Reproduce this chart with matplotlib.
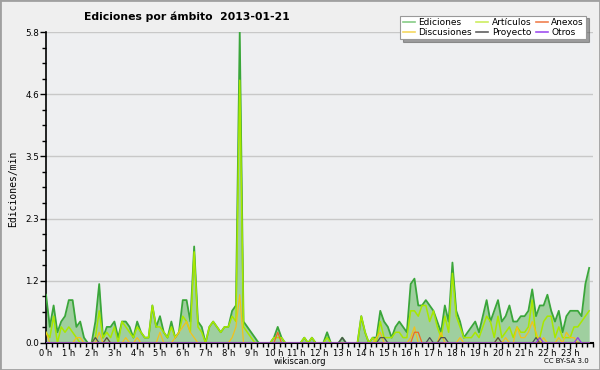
import numpy as np
import matplotlib
matplotlib.use("Agg")
import matplotlib.pyplot as plt
from matplotlib.lines import Line2D
from matplotlib.ticker import FixedLocator, MultipleLocator
from matplotlib.patches import Rectangle

# 10-minute bins, values in edits per minute
hours_step = 1 / 6
ediciones = [
    0.9, 0.3, 0.7, 0.2, 0.4, 0.5, 0.8, 0.8, 0.3, 0.4, 0.1, 0.0, 0.0, 0.4, 1.1, 0.1,
    0.3, 0.3, 0.4, 0.1, 0.4, 0.4, 0.3, 0.1, 0.4, 0.2, 0.1, 0.1, 0.7, 0.3, 0.5, 0.2,
    0.1, 0.4, 0.1, 0.2, 0.8, 0.8, 0.4, 1.8, 0.4, 0.3, 0.0, 0.3, 0.4, 0.3, 0.2, 0.3,
    0.3, 0.6, 0.7, 5.8, 0.4, 0.3, 0.2, 0.1, 0.0, 0.0, 0.0, 0.0, 0.1, 0.3, 0.1, 0.0,
    0.0, 0.0, 0.0, 0.0, 0.1, 0.0, 0.1, 0.0, 0.0, 0.0, 0.2, 0.0, 0.0, 0.0, 0.1, 0.0,
    0.0, 0.0, 0.0, 0.5, 0.2, 0.0, 0.1, 0.1, 0.6, 0.4, 0.3, 0.1, 0.3, 0.4, 0.3, 0.2,
    1.1, 1.2, 0.7, 0.7, 0.8, 0.7, 0.6, 0.4, 0.2, 0.7, 0.4, 1.5, 0.6, 0.4, 0.1, 0.2,
    0.3, 0.4, 0.2, 0.5, 0.8, 0.4, 0.6, 0.8, 0.4, 0.5, 0.7, 0.4, 0.4, 0.5, 0.5, 0.6,
    1.0, 0.5, 0.7, 0.7, 0.9, 0.6, 0.4, 0.6, 0.2, 0.5, 0.6, 0.6, 0.6, 0.5, 1.1, 1.4,
]
articulos = [
    0.2, 0.1, 0.5, 0.0, 0.3, 0.2, 0.3, 0.2, 0.1, 0.0, 0.0, 0.0, 0.0, 0.1, 0.6, 0.1,
    0.2, 0.1, 0.3, 0.0, 0.4, 0.3, 0.2, 0.1, 0.3, 0.2, 0.1, 0.1, 0.7, 0.3, 0.3, 0.2,
    0.1, 0.3, 0.1, 0.2, 0.5, 0.4, 0.2, 1.7, 0.3, 0.2, 0.0, 0.3, 0.4, 0.3, 0.2, 0.3,
    0.3, 0.5, 0.4, 4.9, 0.3, 0.2, 0.1, 0.0, 0.0, 0.0, 0.0, 0.0, 0.1, 0.1, 0.1, 0.0,
    0.0, 0.0, 0.0, 0.0, 0.1, 0.0, 0.1, 0.0, 0.0, 0.0, 0.1, 0.0, 0.0, 0.0, 0.0, 0.0,
    0.0, 0.0, 0.0, 0.5, 0.2, 0.0, 0.1, 0.0, 0.4, 0.1, 0.1, 0.1, 0.2, 0.2, 0.1, 0.1,
    0.6, 0.6, 0.5, 0.7, 0.7, 0.4, 0.6, 0.3, 0.1, 0.5, 0.2, 1.3, 0.5, 0.3, 0.1, 0.1,
    0.1, 0.2, 0.1, 0.3, 0.5, 0.4, 0.1, 0.5, 0.1, 0.2, 0.3, 0.1, 0.3, 0.2, 0.2, 0.3,
    0.8, 0.1, 0.1, 0.4, 0.5, 0.5, 0.1, 0.3, 0.1, 0.1, 0.1, 0.3, 0.3, 0.4, 0.5, 0.6,
]
discusiones = [
    0.2, 0.0, 0.0, 0.0, 0.0, 0.0, 0.0, 0.0, 0.1, 0.1, 0.0, 0.0, 0.0, 0.0, 0.2, 0.0,
    0.1, 0.0, 0.0, 0.0, 0.0, 0.1, 0.0, 0.0, 0.1, 0.0, 0.0, 0.0, 0.0, 0.0, 0.2, 0.0,
    0.0, 0.0, 0.1, 0.2, 0.3, 0.4, 0.2, 0.1, 0.0, 0.0, 0.0, 0.0, 0.0, 0.0, 0.0, 0.0,
    0.0, 0.1, 0.3, 0.9, 0.0, 0.0, 0.0, 0.0, 0.0, 0.0, 0.0, 0.0, 0.0, 0.0, 0.0, 0.0,
    0.0, 0.0, 0.0, 0.0, 0.0, 0.0, 0.0, 0.0, 0.0, 0.0, 0.0, 0.0, 0.0, 0.0, 0.0, 0.0,
    0.0, 0.0, 0.0, 0.0, 0.0, 0.0, 0.0, 0.1, 0.2, 0.0, 0.0, 0.0, 0.0, 0.0, 0.0, 0.0,
    0.1, 0.3, 0.0, 0.0, 0.0, 0.0, 0.0, 0.0, 0.2, 0.0, 0.0, 0.0, 0.0, 0.1, 0.0, 0.0,
    0.0, 0.0, 0.0, 0.0, 0.0, 0.0, 0.0, 0.1, 0.0, 0.1, 0.0, 0.0, 0.3, 0.1, 0.1, 0.2,
    0.4, 0.2, 0.0, 0.1, 0.0, 0.0, 0.0, 0.1, 0.0, 0.2, 0.1, 0.1, 0.0, 0.0, 0.0, 0.0,
]
anexos_bins = [61, 97, 98]
anexos_vals = [0.2, 0.2, 0.2]
proyecto_bins = [13, 16, 78, 88, 89, 101, 104, 105, 119, 129]
proyecto_vals = [0.1, 0.1, 0.1, 0.1, 0.1, 0.1, 0.1, 0.1, 0.1, 0.1]
otros_bins = [130, 140]
otros_vals = [0.1, 0.1]

y_major = [0.0, 1.16, 2.32, 3.48, 4.64, 5.8]
y_labels = ["0.0", "1.2", "2.3", "3.5", "4.6", "5.8"]
x_labels = [f"{h} h" for h in range(24)]

n = len(ediciones)
t = np.arange(n) * hours_step


def sparse(bins, vals):
    a = np.zeros(n)
    a[bins] = vals
    return a


anexos = sparse(anexos_bins, anexos_vals)
proyecto = sparse(proyecto_bins, proyecto_vals)
otros = sparse(otros_bins, otros_vals)

fig = plt.figure(figsize=(6, 3.7), dpi=100, facecolor="#efefef")
fig.patches.append(Rectangle((0, 0), 1, 1, transform=fig.transFigure,
                             fill=False, edgecolor="#a0a0a0", lw=2))
ax = fig.add_axes([0.0767, 0.073, 0.9116, 0.8405])
ax.set_facecolor("#eeeff1")

c_ed, c_art, c_dis = "#3aa63a", "#a8e800", "#f2c21a"
c_anx, c_pro, c_otr = "#ee6a22", "#505050", "#9138e8"

ax.fill_between(t, 0, ediciones, color="#9fcf9f", lw=0, zorder=2)
ax.plot(t, ediciones, color=c_ed, lw=1.3, zorder=3)
ax.plot(t, articulos, color=c_art, lw=1.1, zorder=4)
ax.plot(t, discusiones, color=c_dis, lw=0.9, zorder=5)
ax.plot(t, anexos, color=c_anx, lw=0.9, zorder=6)
ax.plot(t, proyecto, color=c_pro, lw=0.9, zorder=6)
ax.plot(t, otros, color=c_otr, lw=0.9, zorder=6)

ax.set_xlim(0, 24)
ax.set_ylim(0, 5.8)
ax.yaxis.set_major_locator(FixedLocator(y_major))
ax.set_yticklabels(y_labels)
ax.yaxis.set_minor_locator(MultipleLocator(0.29))
ax.xaxis.set_major_locator(FixedLocator(list(range(24))))
ax.set_xticklabels(x_labels)
ax.xaxis.set_minor_locator(MultipleLocator(0.25))
ax.tick_params(axis="both", which="major", length=4, width=1,
               color="black")
ax.tick_params(axis="x", which="major", labelsize=6, pad=0.5)
ax.tick_params(axis="y", which="major", labelsize=6.3, pad=1)
ax.tick_params(axis="both", which="minor", length=3, width=1, color="black")
ax.grid(axis="y", which="major", color="#c8c8c8", lw=1, zorder=1)
for s in ["top", "right"]:
    ax.spines[s].set_visible(False)
ax.spines["left"].set_linewidth(1.2)
ax.spines["bottom"].set_linewidth(1.5)
ax.set_axisbelow(True)

fig.text(0.312, 0.954, "Ediciones por ámbito  2013-01-21", ha="center",
         va="center", fontsize=7.8, fontweight="bold")
fig.text(0.022, 0.49, "Ediciones/min", rotation=90, ha="center", va="center",
         fontsize=7, family="DejaVu Sans Mono")
fig.text(0.5, 0.022, "wikiscan.org", ha="center", va="center", fontsize=6)
fig.text(0.982, 0.024, "CC BY-SA 3.0", ha="right", va="center", fontsize=5)

handles = [
    Line2D([], [], color="#86cc86", lw=1.2),
    Line2D([], [], color="#f5d860", lw=1.2),
    Line2D([], [], color="#cdee60", lw=1.2),
    Line2D([], [], color="#606060", lw=1.2),
    Line2D([], [], color="#f08050", lw=1.2),
    Line2D([], [], color="#a050f0", lw=1.2),
]
labels = ["Ediciones", "Discusiones", "Artículos", "Proyecto", "Anexos", "Otros"]
leg = fig.legend(handles, labels, ncol=3, loc="upper right",
                 bbox_to_anchor=(0.985, 0.97), fontsize=6.5, frameon=True,
                 fancybox=False, shadow=True, edgecolor="#999999",
                 handlelength=1.3, handletextpad=0.4, columnspacing=0.5,
                 labelspacing=0.05, borderpad=0.3)
leg.get_frame().set_linewidth(0.8)
leg.set_zorder(10)

fig.savefig("out.png", dpi=100, facecolor=fig.get_facecolor())
